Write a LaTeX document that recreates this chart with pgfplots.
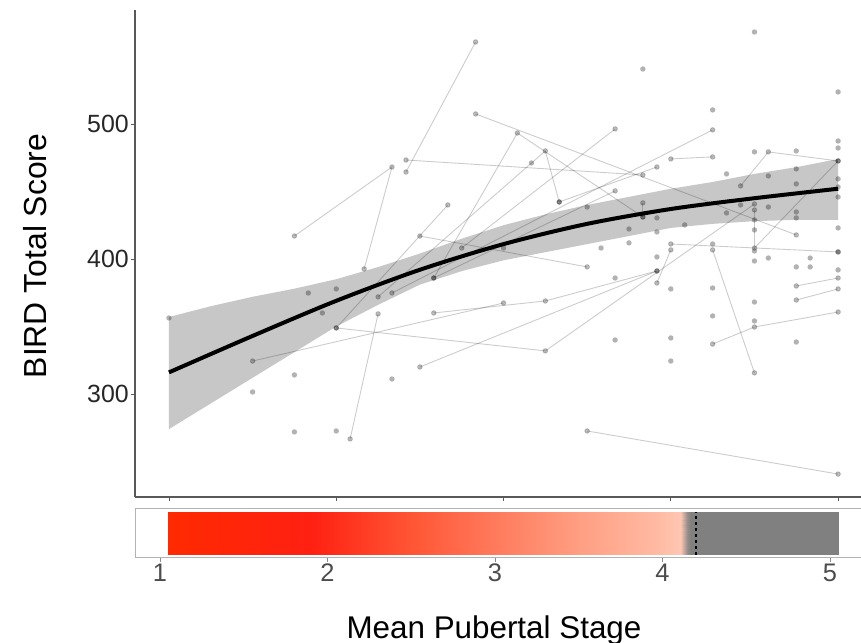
\documentclass[border=0pt]{standalone}
\usepackage{fontspec}
\setmainfont{Liberation Sans}
\usepackage{pgfplots}
\pgfplotsset{compat=1.18}
\pgfplotsset{
  subj/.style={black, draw opacity=0.2, line width=0.9bp, mark=*, mark size=2.3bp,
    mark options={draw=none, fill=black, fill opacity=0.25}},
  colormap={pub}{rgb255(0cm)=(255,42,0) rgb255(0.85cm)=(255,32,18) rgb255(1.45cm)=(255,85,52) rgb255(1.95cm)=(255,122,92) rgb255(2.45cm)=(255,158,130) rgb255(2.95cm)=(255,188,165) rgb255(3.06cm)=(255,198,178) rgb255(3.10cm)=(150,142,138) rgb255(3.12cm)=(128,128,128) rgb255(4cm)=(128,128,128)}
}
\begin{document}
\begin{tikzpicture}
\useasboundingbox (0bp,0bp) rectangle (861bp,643bp);
\begin{axis}[at={(135bp,146bp)}, anchor=south west, scale only axis,
  width=726bp, height=487bp,
  xmin=0.797, xmax=5.137, ymin=223.7, ymax=584.4,
  axis x line=bottom, axis y line=left,
  axis line style={-, black!65, line width=1.1bp},
  xtick={1,2,3,4,5}, xticklabels={},
  ytick={300,400,500},
  tick align=outside, major tick length=4bp,
  tick style={black!65, line width=0.8bp},
  yticklabel style={font=\fontsize{25}{30}\selectfont, text=black!85, inner sep=2bp},
  /pgf/number format/assume math mode=true]
% subject trajectories
\addplot[subj] coordinates {(2.833,560.7) (2.417,464.4)};
\addplot[subj] coordinates {(1.75,417.0) (2.333,468.1) (2.167,392.6)};
\addplot[subj] coordinates {(2.417,473.3) (3.833,462.2)};
\addplot[subj] coordinates {(2.833,507.4) (4.75,417.8)};
\addplot[subj] coordinates {(2.583,385.9) (3.083,493.3) (3.833,431.1)};
\addplot[subj] coordinates {(2.25,371.9) (3.25,480.0) (3.333,442.2)};
\addplot[subj] coordinates {(2.667,440.0) (2.0,348.9)};
\addplot[subj] coordinates {(2.5,417.0) (3.5,394.1)};
\addplot[subj] coordinates {(1.5,324.4) (3.0,367.4)};
\addplot[subj] coordinates {(2.583,360.0) (3.25,368.9) (3.917,391.1)};
\addplot[subj] coordinates {(2.0,348.9) (3.25,331.9) (4.5,440.7)};
\addplot[subj] coordinates {(2.5,320.0) (3.917,391.1)};
\addplot[subj] coordinates {(2.25,359.3) (2.083,266.7)};
\addplot[subj] coordinates {(2.75,408.1) (3.667,496.3)};
\addplot[subj] coordinates {(2.583,385.9) (3.667,450.4)};
\addplot[subj] coordinates {(2.333,374.8) (4.25,495.6)};
\addplot[subj] coordinates {(4.25,337.0) (4.5,349.6) (5.0,360.7)};
\addplot[subj] coordinates {(4.75,380.0) (5.0,385.9)};
\addplot[subj] coordinates {(4.75,369.6) (5.0,377.8)};
\addplot[subj] coordinates {(4.25,406.7) (4.5,315.6)};
\addplot[subj] coordinates {(3.5,272.6) (5.0,240.7)};
\addplot[subj] coordinates {(4.0,411.1) (5.0,405.2)};
\addplot[subj] coordinates {(4.0,474.1) (4.25,475.6)};
\addplot[subj] coordinates {(4.417,454.1) (4.583,479.3) (5.0,472.6)};
\addplot[subj] coordinates {(4.5,436.3) (4.5,408.1) (5.0,472.6)};
\addplot[subj] coordinates {(3.833,441.5) (3.833,431.1)};
\addplot[subj] coordinates {(3.917,382.2) (4.0,406.7)};
\addplot[subj] coordinates {(3.917,468.1) (3.333,442.2)};
% single observations
\addplot[only marks, black, draw opacity=0, mark=*, mark size=2.7bp, mark options={draw=none, fill=black, fill opacity=0.3, draw opacity=0}] coordinates {
(1.0,356.3) (1.833,374.8) (2.0,377.8) (1.917,360.0) (1.5,301.5) (1.75,314.1)
(1.75,271.9) (2.0,272.6) (2.333,311.1) (4.5,568.1) (3.833,540.7) (5.0,523.7)
(4.25,510.4) (3.167,471.1) (4.75,480.0) (4.5,479.3) (5.0,487.4) (5.0,482.2)
(4.333,463.0) (4.75,466.7) (4.583,461.5) (4.75,455.6) (5.0,459.3) (5.0,453.3)
(5.0,445.9) (3.5,438.5) (3.917,430.4) (4.583,438.5) (4.333,434.1) (4.75,434.8)
(4.75,430.4) (5.0,423.0) (4.083,425.2) (3.75,422.2) (3.75,411.9) (3.583,408.1)
(3.0,408.1) (3.917,401.5) (4.583,400.7) (4.833,400.7) (4.75,394.1) (4.833,394.1)
(4.5,398.5) (5.0,391.9) (4.25,378.5) (4.5,368.1) (4.25,357.8) (4.5,354.1)
(3.667,340.0) (4.0,341.5) (4.0,324.4) (4.75,338.5) (4.5,428.9) (4.5,421.5)
(4.25,411.1) (4.5,405.9) (3.667,385.9) (4.0,377.8) (4.417,440.0) (3.917,420.0)
(5.0,405.2)};
% confidence band (upper edge left to right, lower edge right to left)
\addplot[fill=black, fill opacity=0.22, draw=none] coordinates {
(1,357) (1.25,365) (1.5,372) (1.75,378) (2,385) (2.25,394) (2.5,404) (2.75,415) (3,425)
(3.25,433) (3.5,440) (3.75,446) (4,452) (4.25,457) (4.5,463) (4.75,468) (5,474)
(5,429) (4.75,429) (4.5,428) (4.25,426) (4,423) (3.75,417) (3.5,411) (3.25,405) (3,399)
(2.75,391) (2.5,381) (2.25,366) (2,350) (1.75,331) (1.5,312) (1.25,293) (1,274)} -- cycle;
% fitted curve
\addplot[black, line width=4bp, smooth] coordinates {(1,316) (1.5,343) (2,369) (2.5,392) (3,411) (3.5,426) (4,437) (4.5,445) (5,452)};
\end{axis}
\begin{axis}[at={(135bp,85bp)}, anchor=south west, scale only axis,
  width=726bp, height=49bp,
  xmin=0.851, xmax=5.185, ymin=-0.083, ymax=1.083,
  axis line style={black!30, line width=1bp},
  xtick={1,2,3,4,5}, ytick=\empty, xtick pos=bottom,
  tick align=outside, major tick length=4bp,
  tick style={black!45, line width=0.8bp},
  xticklabel style={font=\fontsize{25.5}{30}\selectfont, text=black!70, inner sep=2bp},
  /pgf/number format/assume math mode=true,
  colormap name=pub, point meta min=1.05, point meta max=5.05]
\addplot[patch, shader=interp, point meta=x] coordinates {(1.05,0) (5.05,0) (5.05,1) (1.05,0) (5.05,1) (1.05,1)};
\addplot[black, dashed, line width=1.3bp] coordinates {(4.2,0) (4.2,1)};
\end{axis}
\node[rotate=90, font=\fontsize{32}{38}\selectfont] at (35bp,387bp) {BIRD Total Score};
\node[anchor=base, font=\fontsize{31.5}{38}\selectfont] at (494bp,5bp) {Mean Pubertal Stage};
\end{tikzpicture}
\end{document}
